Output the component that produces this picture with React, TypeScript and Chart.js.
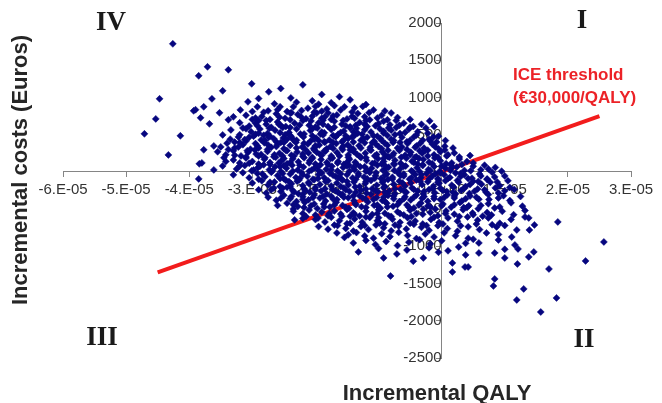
import React, { useEffect, useRef } from "react";
import { Chart, registerables } from "chart.js";

Chart.register(...registerables);

// Incremental QALY values are expressed in units of 1E-05 (axis tick labels show the scientific notation).
const xTickValues = [-6, -5, -4, -3, -2, -1, 0, 1, 2, 3];
const xTickLabels = ["-6.E-05", "-5.E-05", "-4.E-05", "-3.E-05", "-2.E-05", "-1.E-05", "0.E+00", "1.E-05", "2.E-05", "3.E-05"];
const yTickValues = [2000, 1500, 1000, 500, 0, -500, -1000, -1500, -2000, -2500];
const yTickLabels = ["2000", "1500", "1000", "500", "0", "-500", "-1000", "-1500", "-2000", "-2500"];

const quadrantNames = ["I", "II", "III", "IV"];
const thresholdLabel = ["ICE threshold", "(€30,000/QALY)"];
const xTitle = "Incremental QALY";
const yTitle = "Incremental costs (Euros)";

// ICE threshold line end points [qaly (1E-05), cost]
const thresholdLine: [number, number][] = [[-4.5, -1350], [2.5, 750]];

// Sparse outlying simulations [qaly (1E-05), cost]
const outlierPoints: [number, number][] = [
  [-4.26, 1720], [-3.85, 1290], [-3.71, 1411], [-3.38, 1371], [-3.01, 1183], [-2.74, 1075], [-2.2, 1169],
  [-3.47, 1089], [-4.47, 981], [-4.53, 712], [-4.71, 511], [-4.14, 484], [-4.33, 228], [-3.93, 820],
  [-3.9, 835], [-3.82, 726], [-3.77, 874], [-3.64, 981], [-3.52, 793], [-3.68, 645], [-3.84, 108],
  [-3.77, 296], [-3.61, 349], [-3.47, 497], [-3.34, 564], [-3.3, 739], [-3.19, 833], [-3.07, 941],
  [-2.92, 874], [-3.85, -94], [-3.61, 27], [-3.5, 336], [-3.38, 699], [-2.39, 994], [-2.35, 874],
  [-2.56, 874], [-3.8, 121],
  [-0.92, -1156], [-0.29, -1156], [-0.81, -1398], [1.0, -1156], [1.38, -1142], [0.38, -1115], [0.17, -1223],
  [0.17, -1344], [0.42, -1277], [0.37, -1277], [1.2, -1237], [0.84, -1438], [0.82, -1532], [1.3, -1572],
  [1.19, -1720], [1.57, -1882], [1.82, -1693], [1.7, -1304], [2.28, -1196], [2.57, -941], [1.84, -672],
  [-0.45, -1200],
];

// Main cloud of simulations [qaly (1E-05), cost]
const cloudPoints: [number, number][] = [
  [-1.9, 1040], [-1.62, 1010], [-2.55, 1120],
  [-2.05, 955], [-1.75, 930], [-1.45, 968], [-1.2, 905], [-2.65, 915], [-2.9, 985], [-1.95, 910], [-2.3, 935],
  [-1.54, 874], [-1.38, 860], [-1.08, 833], [-2.75, 820], [-2.12, 855], [-1.9, 815], [-1.7, 890], [-1.25, 880],
  [-2.45, 810], [-2.0, 880], [-3.0, 810], [-1.82, 845], [-0.9, 818],
  [-3.1, 760], [-2.85, 745], [-2.62, 780], [-2.48, 720], [-2.28, 770], [-2.15, 715], [-1.98, 790], [-1.85, 740],
  [-1.66, 765], [-1.5, 712], [-1.33, 785], [-0.95, 760], [-0.7, 730], [-2.72, 705], [-2.05, 748], [-1.42, 745],
  [-1.75, 705], [-2.38, 795], [-3.0, 705], [-1.22, 740], [-0.8, 790],
  [-3.2, 660], [-3.05, 615], [-2.9, 690], [-2.78, 640], [-2.6, 670], [-2.47, 610], [-2.33, 655], [-2.2, 690],
  [-2.1, 625], [-1.95, 660], [-1.8, 610], [-1.7, 680], [-1.58, 640], [-1.45, 605], [-1.3, 665], [-1.14, 699],
  [-1.05, 620], [-0.92, 680], [-0.82, 632], [-0.6, 655], [-0.45, 610], [-0.19, 685], [-2.55, 625], [-2.0, 602],
  [-1.36, 625], [-0.72, 690], [-2.95, 655], [-1.88, 695], [-1.22, 640],
  [-3.15, 590], [-3.02, 540], [-2.88, 575], [-2.76, 515], [-2.64, 560], [-2.52, 595], [-2.42, 530], [-2.3, 575],
  [-2.18, 510], [-2.08, 555], [-1.97, 590], [-1.86, 525], [-1.75, 570], [-1.64, 505], [-1.55, 550], [-1.45, 590],
  [-1.33, 520], [-1.22, 565], [-1.12, 535], [-0.98, 580], [-0.92, 524], [-0.8, 560], [-0.66, 515], [-0.52, 575],
  [-0.38, 540], [-0.25, 590], [-2.95, 505], [-2.48, 500], [-1.92, 508], [-1.4, 540], [-0.72, 595], [-2.7, 598],
  [-3.35, 440], [-3.22, 470], [-3.1, 415], [-2.98, 480], [-2.86, 430], [-2.74, 465], [-2.62, 405], [-2.51, 455],
  [-2.4, 490], [-2.3, 425], [-2.19, 470], [-2.08, 410], [-1.99, 455], [-1.88, 495], [-1.78, 430], [-1.68, 470],
  [-1.58, 405], [-1.48, 450], [-1.38, 490], [-1.28, 425], [-1.18, 465], [-1.07, 410], [-0.97, 450], [-0.86, 490],
  [-0.76, 420], [-0.63, 465], [-0.44, 470], [-0.13, 470], [-0.3, 425], [-0.55, 405], [-2.45, 440], [-1.95, 420],
  [-1.52, 485], [-1.02, 480], [-0.18, 415], [-2.82, 492],
  [-3.4, 385], [-3.28, 320], [-3.15, 365], [-3.03, 305], [-2.92, 350], [-2.81, 390], [-2.7, 330], [-2.6, 370],
  [-2.5, 310], [-2.4, 355], [-2.31, 395], [-2.21, 335], [-2.12, 375], [-2.03, 315], [-1.94, 360], [-1.85, 398],
  [-1.76, 340], [-1.67, 380], [-1.58, 320], [-1.49, 365], [-1.4, 305], [-1.31, 350], [-1.22, 390], [-1.13, 330],
  [-1.04, 372], [-0.95, 312], [-0.86, 358], [-0.77, 395], [-0.63, 336], [-0.4, 349], [-0.54, 380], [-0.28, 320],
  [-0.15, 375], [-0.05, 310], [0.05, 345], [-2.55, 395], [-2.0, 338], [-1.45, 330], [-0.9, 385], [-1.82, 310],
  [-2.75, 362], [-3.2, 395],
  [-3.55, 270], [-3.42, 230], [-3.3, 285], [-3.18, 215], [-3.07, 260], [-2.96, 295], [-2.86, 235], [-2.76, 275],
  [-2.66, 205], [-2.57, 250], [-2.47, 290], [-2.38, 225], [-2.29, 268], [-2.2, 210], [-2.11, 255], [-2.02, 295],
  [-1.93, 238], [-1.84, 278], [-1.75, 215], [-1.66, 262], [-1.57, 298], [-1.48, 228], [-1.39, 272], [-1.3, 210],
  [-1.21, 250], [-1.12, 290], [-1.03, 232], [-0.94, 270], [-0.85, 205], [-0.76, 248], [-0.67, 288], [-0.58, 222],
  [-0.49, 265], [-0.4, 205], [-0.31, 250], [-0.22, 292], [-0.12, 230], [-0.02, 270], [0.08, 215], [0.2, 255],
  [-2.52, 215], [-1.98, 265], [-1.45, 295], [-0.9, 230], [-0.35, 285], [-2.9, 212],
  [-3.3, 160], [-3.2, 120], [-3.1, 185], [-3.0, 140], [-2.9, 105], [-2.81, 170], [-2.72, 125], [-2.63, 195],
  [-2.54, 150], [-2.45, 110], [-2.36, 175], [-2.27, 135], [-2.18, 190], [-2.09, 148], [-2.0, 105], [-1.91, 165],
  [-1.82, 125], [-1.73, 185], [-1.64, 140], [-1.55, 102], [-1.46, 170], [-1.37, 130], [-1.28, 192], [-1.19, 152],
  [-1.1, 112], [-1.01, 178], [-0.92, 138], [-0.83, 198], [-0.74, 158], [-0.65, 115], [-0.56, 182], [-0.47, 142],
  [-0.38, 105], [-0.29, 168], [-0.2, 128], [-0.11, 188], [-0.02, 148], [0.07, 110], [0.16, 121], [0.28, 172],
  [0.4, 140], [-2.58, 118], [-2.05, 180], [-1.5, 128], [-0.95, 105], [-0.42, 195], [-3.42, 140],
  [-3.47, 80], [-3.25, 40], [-3.12, 85], [-3.01, 15], [-2.91, 60], [-2.82, 95], [-2.73, 30], [-2.64, 70],
  [-2.55, 5], [-2.46, 50], [-2.37, 90], [-2.28, 25], [-2.19, 65], [-2.1, 10], [-2.01, 55], [-1.92, 95],
  [-1.83, 35], [-1.74, 75], [-1.65, 12], [-1.56, 58], [-1.47, 92], [-1.38, 28], [-1.29, 68], [-1.2, 8],
  [-1.11, 48], [-1.02, 88], [-0.93, 22], [-0.84, 62], [-0.75, 98], [-0.66, 38], [-0.57, 78], [-0.48, 15],
  [-0.39, 55], [-0.3, 95], [-0.21, 32], [-0.12, 72], [-0.03, 10], [0.06, 50], [0.24, 67], [0.15, 88],
  [0.36, 20], [0.5, 75], [0.62, 30], [0.74, 40], [-2.5, 85], [-1.95, 20], [-1.4, 60], [-0.88, 45], [-0.35, 5],
  [-3.3, -40], [-3.05, -80], [-2.92, -20], [-2.8, -65], [-2.7, -5], [-2.6, -50], [-2.5, -92], [-2.4, -30],
  [-2.31, -75], [-2.22, -12], [-2.13, -58], [-2.04, -98], [-1.95, -35], [-1.86, -78], [-1.77, -18], [-1.68, -62],
  [-1.59, -95], [-1.5, -40], [-1.41, -82], [-1.32, -22], [-1.23, -68], [-1.14, -8], [-1.05, -52], [-0.96, -90],
  [-0.87, -28], [-0.78, -72], [-0.69, -15], [-0.6, -55], [-0.51, -98], [-0.42, -35], [-0.33, -78], [-0.24, -20],
  [-0.15, -60], [-0.06, -92], [0.04, -38], [0.13, -75], [0.22, -15], [0.36, -40], [0.48, -85], [0.6, -30],
  [0.84, -67], [1.0, -54], [0.72, -95], [-2.25, -88], [-1.72, -45], [-1.18, -92], [-0.65, -48], [-0.1, -25],
  [0.3, -62],
  [-3.0, -150], [-2.85, -120], [-2.75, -175], [-2.65, -135], [-2.56, -195], [-2.47, -112], [-2.38, -160],
  [-2.29, -125], [-2.2, -185], [-2.11, -142], [-2.02, -105], [-1.93, -170], [-1.84, -130], [-1.75, -190],
  [-1.66, -148], [-1.57, -108], [-1.48, -175], [-1.39, -135], [-1.3, -195], [-1.21, -155], [-1.12, -115],
  [-1.03, -180], [-0.94, -140], [-0.85, -102], [-0.76, -165], [-0.67, -125], [-0.58, -188], [-0.49, -148],
  [-0.4, -110], [-0.31, -172], [-0.22, -132], [-0.13, -192], [-0.04, -152], [0.06, -118], [0.16, -178],
  [0.27, -138], [0.38, -196], [0.5, -125], [0.63, -165], [0.77, -140], [0.92, -185], [1.05, -120],
  [-2.4, -198], [-1.6, -195], [-0.9, -195], [-0.05, -105], [0.45, -170],
  [-2.9, -240], [-2.78, -285], [-2.66, -215], [-2.55, -265], [-2.45, -205], [-2.36, -250], [-2.27, -292],
  [-2.18, -228], [-2.09, -272], [-2.0, -210], [-1.91, -258], [-1.82, -298], [-1.73, -235], [-1.64, -278],
  [-1.55, -218], [-1.46, -262], [-1.37, -204], [-1.28, -248], [-1.19, -288], [-1.1, -225], [-1.01, -268],
  [-0.92, -212], [-0.83, -255], [-0.74, -295], [-0.65, -232], [-0.56, -275], [-0.47, -215], [-0.38, -258],
  [-0.29, -298], [-0.2, -238], [-0.11, -280], [-0.02, -220], [0.08, -262], [0.19, -205], [0.31, -248],
  [0.44, -290], [0.57, -230], [0.7, -270], [0.85, -215], [1.0, -255], [1.15, -235], [-2.2, -300], [-1.6, -300],
  [0.22, -295],
  [-2.75, -340], [-2.62, -380], [-2.5, -315], [-2.4, -360], [-2.3, -398], [-2.2, -335], [-2.11, -375],
  [-2.02, -310], [-1.93, -352], [-1.84, -392], [-1.75, -328], [-1.66, -370], [-1.57, -305], [-1.48, -348],
  [-1.39, -388], [-1.3, -322], [-1.21, -365], [-1.12, -302], [-1.03, -345], [-0.94, -385], [-0.85, -318],
  [-0.76, -360], [-0.67, -398], [-0.58, -335], [-0.49, -378], [-0.4, -312], [-0.31, -355], [-0.22, -395],
  [-0.12, -330], [-0.02, -372], [0.09, -308], [0.2, -350], [0.32, -392], [0.45, -325], [0.59, -368],
  [0.74, -305], [0.9, -350], [1.08, -385], [1.25, -330], [-0.9, -395],
  [-2.6, -450], [-2.45, -420], [-2.35, -497], [-2.28, -465], [-2.17, -410], [-2.07, -455], [-1.97, -492],
  [-1.87, -430], [-1.77, -472], [-1.67, -408], [-1.57, -450], [-1.47, -490], [-1.37, -425], [-1.27, -468],
  [-1.17, -405], [-1.07, -448], [-0.97, -488], [-0.87, -422], [-0.77, -462], [-0.66, -402], [-0.55, -445],
  [-0.44, -485], [-0.33, -418], [-0.22, -458], [-0.1, -498], [0.02, -432], [0.15, -475], [0.29, -410],
  [0.43, -455], [0.58, -495], [0.74, -428], [0.92, -470], [1.1, -415], [1.28, -460], [-1.0, -470], [0.35, -480],
  [-2.35, -530], [-2.0, -578], [-2.2, -560], [-2.1, -512], [-1.9, -540], [-1.8, -590], [-1.7, -525],
  [-1.6, -565], [-1.5, -505], [-1.4, -548], [-1.3, -592], [-1.2, -530], [-1.1, -572], [-1.0, -510],
  [-0.9, -555], [-0.8, -598], [-0.7, -535], [-0.6, -578], [-0.5, -515], [-0.4, -560], [-0.29, -502],
  [-0.18, -545], [-0.06, -588], [0.07, -525], [0.2, -568], [0.34, -508], [0.49, -552], [0.65, -595],
  [0.79, -578], [0.96, -530], [1.14, -575], [1.32, -520], [-1.45, -595],
  [-2.33, -645], [-2.2, -625], [-1.85, -672], [-1.75, -610], [-1.62, -655], [-1.5, -695], [-1.38, -632],
  [-1.26, -675], [-1.14, -612], [-1.02, -658], [-0.9, -698], [-0.78, -635], [-0.66, -678], [-0.54, -615],
  [-0.42, -660], [-0.3, -700], [-0.17, -638], [-0.04, -680], [0.1, -618], [0.25, -662], [0.41, -605],
  [0.57, -648], [0.74, -618], [0.92, -690], [1.1, -640], [1.32, -605], [1.38, -618], [1.47, -712],
  [-2.0, -640], [-1.0, -615],
  [-1.95, -735], [-1.8, -770], [-1.65, -720], [-1.52, -760], [-1.4, -795], [-1.28, -735], [-1.16, -775],
  [-1.04, -712], [-0.92, -752], [-0.8, -792], [-0.68, -728], [-0.56, -768], [-0.44, -705], [-0.32, -745],
  [-0.2, -785], [-0.06, -722], [0.09, -762], [0.25, -798], [0.42, -738], [0.6, -775], [0.87, -739],
  [1.19, -780], [1.39, -780], [1.0, -720],
  [-1.66, -820], [-1.48, -845], [-1.54, -880], [-1.35, -815], [-1.22, -860], [-1.08, -890], [-0.95, -830],
  [-0.82, -870], [-0.68, -812], [-0.54, -855], [-0.4, -895], [-0.26, -835], [-0.12, -875], [0.04, -818],
  [0.22, -858], [0.42, -890], [0.71, -820], [1.11, -874], [0.9, -840],
  [-1.4, -955], [-1.2, -920], [-1.05, -975], [-0.88, -935], [-0.7, -990], [-0.52, -945], [-0.35, -910],
  [-0.18, -965], [0.0, -925], [0.38, -960], [0.59, -954], [0.9, -914], [1.16, -981], [0.5, -905],
  [-1.32, -1075], [-0.71, -1102], [-1.0, -1030], [-0.55, -1050], [-0.2, -1020], [-0.05, -1080], [0.27, -1008],
  [0.59, -1089], [0.84, -1089], [1.0, -1040], [1.21, -1035], [1.46, -1075], [0.1, -1060],
];

// Dense core of the cloud [qaly (1E-05), cost]
const corePoints: [number, number][] = [
  [-2.82, 800], [-2.6, 835], [-2.4, 790], [-2.22, 825], [-2.02, 800], [-1.8, 790], [-1.6, 830], [-1.42, 805], [-1.15, 795],
  [-2.95, 725], [-2.78, 690], [-2.57, 735], [-2.4, 700], [-2.23, 740], [-2.07, 685], [-1.9, 720], [-1.72, 750],
  [-1.56, 690], [-1.38, 720], [-1.2, 690], [-1.02, 725], [-0.86, 700], [-0.5, 705],
  [-3.1, 580], [-2.92, 620], [-2.73, 585], [-2.58, 640], [-2.4, 595], [-2.25, 630], [-2.05, 580], [-1.88, 640],
  [-1.7, 600], [-1.52, 620], [-1.35, 585], [-1.18, 610], [-1.0, 650], [-0.84, 590], [-0.67, 625], [-0.5, 600],
  [-0.32, 640], [-0.12, 610],
  [-3.2, 500], [-3.05, 465], [-2.9, 520], [-2.72, 480], [-2.56, 525], [-2.38, 470], [-2.24, 510], [-2.05, 485],
  [-1.9, 535], [-1.72, 490], [-1.6, 530], [-1.42, 470], [-1.26, 505], [-1.08, 485], [-0.92, 545], [-0.74, 500],
  [-0.58, 530], [-0.4, 495], [-0.22, 520], [-0.05, 480],
  [-3.28, 400], [-3.12, 435], [-2.95, 380], [-2.8, 420], [-2.66, 445], [-2.5, 395], [-2.35, 430], [-2.18, 385],
  [-2.02, 440], [-1.86, 405], [-1.72, 395], [-1.55, 430], [-1.4, 400], [-1.24, 445], [-1.1, 390], [-0.95, 420],
  [-0.8, 438], [-0.66, 395], [-0.5, 425], [-0.34, 385], [-0.2, 440], [-0.08, 400], [0.06, 420],
  [-3.38, 300], [-3.22, 335], [-3.08, 285], [-2.9, 320], [-2.76, 300], [-2.62, 340], [-2.45, 285], [-2.3, 320],
  [-2.16, 300], [-2.0, 350], [-1.86, 280], [-1.72, 315], [-1.56, 345], [-1.42, 290], [-1.28, 320], [-1.14, 300],
  [-1.0, 340], [-0.85, 290], [-0.7, 320], [-0.55, 300], [-0.42, 330], [-0.26, 290], [-0.1, 335], [0.05, 295],
  [0.18, 320],
  [-3.45, 190], [-3.28, 225], [-3.1, 200], [-2.94, 240], [-2.8, 190], [-2.65, 230], [-2.5, 180], [-2.34, 215],
  [-2.2, 240], [-2.05, 195], [-1.9, 225], [-1.76, 180], [-1.62, 215], [-1.48, 195], [-1.34, 235], [-1.2, 190],
  [-1.06, 215], [-0.92, 180], [-0.78, 220], [-0.64, 195], [-0.5, 230], [-0.36, 180], [-0.22, 215], [-0.06, 195],
  [0.1, 230], [0.28, 200], [0.45, 220],
  [-3.2, 80], [-3.05, 115], [-2.88, 75], [-2.72, 100], [-2.56, 70], [-2.4, 125], [-2.25, 90], [-2.1, 120],
  [-1.96, 75], [-1.8, 100], [-1.65, 120], [-1.5, 80], [-1.35, 105], [-1.22, 70], [-1.06, 120], [-0.9, 85],
  [-0.76, 110], [-0.6, 75], [-0.44, 125], [-0.3, 85], [-0.15, 110], [0.0, 80], [0.16, 55], [0.32, 100],
  [0.5, 120], [0.68, 90], [0.85, 60],
  [-3.15, -10], [-2.98, 25], [-2.84, -30], [-2.68, 15], [-2.52, -20], [-2.36, 10], [-2.2, -40], [-2.06, 25],
  [-1.9, -15], [-1.75, 30], [-1.6, -25], [-1.46, 10], [-1.32, -45], [-1.18, 25], [-1.04, -10], [-0.9, -45],
  [-0.75, 20], [-0.6, -30], [-0.46, 5], [-0.32, -40], [-0.18, 15], [-0.02, -15], [0.14, 20], [0.3, -20],
  [0.46, 15], [0.62, -55], [0.8, -5], [0.95, 10],
  [-2.9, -100], [-2.72, -140], [-2.56, -90], [-2.42, -130], [-2.26, -110], [-2.1, -160], [-1.96, -90],
  [-1.8, -120], [-1.64, -80], [-1.5, -130], [-1.36, -100], [-1.2, -130], [-1.06, -85], [-0.92, -120],
  [-0.78, -95], [-0.62, -150], [-0.48, -80], [-0.34, -125], [-0.2, -95], [-0.06, -140], [0.1, -90],
  [0.25, -115], [0.42, -90], [0.58, -130], [0.72, -100], [0.88, -135],
  [-2.7, -240], [-2.52, -220], [-2.34, -270], [-2.16, -250], [-2.0, -240], [-1.85, -225], [-1.68, -255],
  [-1.52, -240], [-1.36, -275], [-1.2, -230], [-1.05, -250], [-0.9, -275], [-0.74, -225], [-0.6, -255],
  [-0.44, -235], [-0.28, -265], [-0.14, -225], [0.02, -250], [0.18, -275], [0.36, -220], [0.52, -260],
  [0.68, -240], [0.9, -285], [1.08, -210],
  [-2.55, -355], [-2.38, -330], [-2.2, -370], [-2.04, -345], [-1.88, -330], [-1.72, -365], [-1.55, -340],
  [-1.4, -325], [-1.25, -350], [-1.08, -370], [-0.92, -340], [-0.76, -325], [-0.6, -360], [-0.44, -340],
  [-0.28, -330], [-0.12, -360], [0.04, -345], [0.2, -325], [0.38, -360], [0.55, -340], [0.75, -370], [0.98, -320],
  [-2.35, -440], [-2.18, -480], [-2.02, -430], [-1.86, -470], [-1.7, -445], [-1.52, -475], [-1.36, -440],
  [-1.2, -480], [-1.02, -445], [-0.86, -470], [-0.7, -440], [-0.52, -475], [-0.36, -445], [-0.18, -470],
  [0.0, -455], [0.2, -440], [0.4, -480], [0.62, -450], [0.84, -485],
  [-2.15, -600], [-1.96, -620], [-1.78, -560], [-1.58, -595], [-1.38, -570], [-1.2, -605], [-1.02, -560],
  [-0.84, -590], [-0.66, -560], [-0.48, -600], [-0.3, -570], [-0.12, -610], [0.06, -560], [0.28, -600],
  [0.5, -575], [0.72, -545],
  [-1.7, -715], [-1.45, -690], [-1.22, -720], [-0.98, -690], [-0.74, -715], [-0.5, -690], [-0.24, -720],
  [0.02, -700], [0.3, -725], [0.55, -700], [0.8, -710],
];

const textPlugin = {
  id: "ceTexts",
  afterDraw(chart: any) {
    const ctx = chart.ctx as CanvasRenderingContext2D;
    ctx.save();
    // quadrant labels
    ctx.fillStyle = "#1a1a1a";
    ctx.font = 'bold 27px "Liberation Serif", "Times New Roman", serif';
    ctx.textAlign = "center";
    ctx.textBaseline = "middle";
    ctx.fillText(quadrantNames[0], 582, 21);
    ctx.fillText(quadrantNames[1], 584, 340);
    ctx.fillText(quadrantNames[2], 102, 338);
    ctx.fillText(quadrantNames[3], 111, 23);
    // threshold label
    ctx.fillStyle = "#ec2227";
    ctx.font = 'bold 17px "Liberation Sans", Arial, sans-serif';
    ctx.textAlign = "left";
    ctx.fillText(thresholdLabel[0], 513, 75);
    ctx.fillText(thresholdLabel[1], 513, 98);
    // axis titles
    ctx.fillStyle = "#262626";
    ctx.font = 'bold 22px "Liberation Sans", Arial, sans-serif';
    ctx.textAlign = "center";
    ctx.fillText(xTitle, 437, 394);
    ctx.translate(21, 170);
    ctx.rotate(-Math.PI / 2);
    ctx.fillText(yTitle, 0, 0);
    ctx.restore();
  },
};

export default function App() {
  const ref = useRef<HTMLCanvasElement | null>(null);
  useEffect(() => {
    if (!ref.current) return;
    const toXY = (p: [number, number]) => ({ x: p[0], y: p[1] });
    const chart = new Chart(ref.current, {
      type: "scatter",
      data: {
        datasets: [
          {
            type: "scatter",
            data: [...cloudPoints, ...corePoints, ...outlierPoints].map(toXY),
            backgroundColor: "#06067f",
            borderColor: "#06067f",
            borderWidth: 0.5,
            pointStyle: "rectRot",
            pointRadius: 3.5,
          },
          {
            type: "line",
            data: thresholdLine.map(toXY),
            borderColor: "#f21c1c",
            borderWidth: 4,
            pointRadius: 0,
            fill: false,
          } as any,
        ],
      },
      options: {
        animation: false,
        responsive: true,
        maintainAspectRatio: false,
        layout: { padding: { left: 63, right: 31, top: 23, bottom: 45 } },
        plugins: { legend: { display: false }, tooltip: { enabled: false } },
        scales: {
          x: {
            type: "linear",
            position: { y: 0 } as any,
            min: -6,
            max: 3,
            afterBuildTicks: (s: any) => {
              s.ticks = xTickValues.map((v) => ({ value: v }));
            },
            ticks: {
              autoSkip: false,
              maxRotation: 0,
              padding: 4,
              color: "#333",
              font: { family: '"Liberation Sans", Arial, sans-serif', size: 15 },
              callback: (v: any) => xTickLabels[xTickValues.indexOf(Number(v))],
            },
            grid: { drawOnChartArea: false, drawTicks: true, tickLength: 5, color: "#858585" },
            border: { display: true, color: "#858585", width: 1 },
          },
          y: {
            type: "linear",
            position: { x: 0 } as any,
            min: -2500,
            max: 2000,
            afterBuildTicks: (s: any) => {
              s.ticks = yTickValues.map((v) => ({ value: v }));
            },
            ticks: {
              autoSkip: false,
              padding: 8,
              color: "#333",
              font: { family: '"Liberation Sans", Arial, sans-serif', size: 15 },
              callback: (v: any) => yTickLabels[yTickValues.indexOf(Number(v))],
            },
            grid: { drawOnChartArea: false, drawTicks: true, tickLength: 5, color: "#858585" },
            border: { display: true, color: "#858585", width: 1 },
          },
        },
      },
      plugins: [textPlugin],
    });
    return () => chart.destroy();
  }, []);
  return (
    <div style={{ position: "fixed", left: 0, top: 0, width: 662, height: 403, background: "#fff" }}>
      <canvas ref={ref} />
    </div>
  );
}
